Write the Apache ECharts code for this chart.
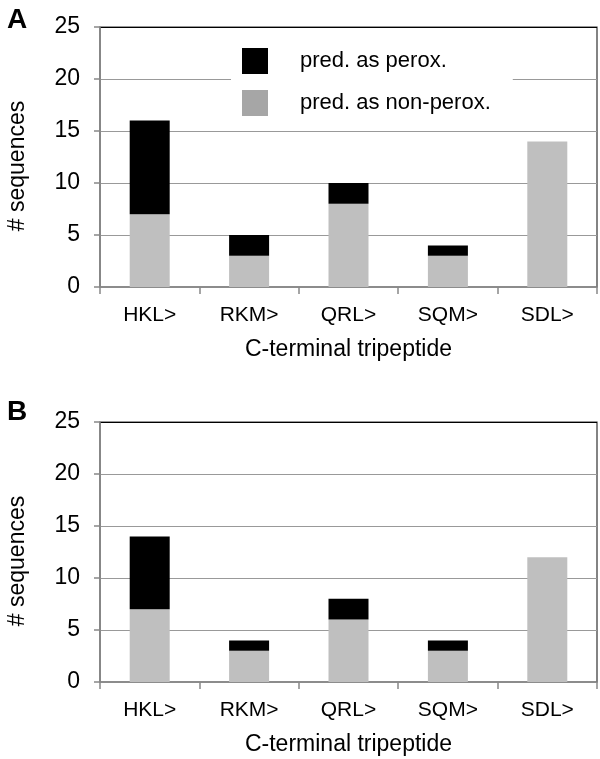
<!DOCTYPE html>
<html>
<head>
<meta charset="utf-8">
<script src="https://cdn.jsdelivr.net/npm/echarts@6/dist/echarts.min.js"></script>
<style>
  html, body { margin: 0; padding: 0; background: #fff; }
  #chart { width: 600px; height: 759px; }
</style>
</head>
<body>
<div id="chart"></div>
<script>
// tripeptide categories
const categories = ['HKL>', 'RKM>', 'QRL>', 'SQM>', 'SDL>'];
const yTicks = [0, 5, 10, 15, 20, 25];

// panel A
const nonPeroxA = [7, 3, 8, 3, 14];
const peroxA = [9, 2, 2, 1, 0];
// panel B
const nonPeroxB = [7, 3, 6, 3, 12];
const peroxB = [7, 1, 2, 1, 0];

const FONT = '"Liberation Sans", Arial, sans-serif';
const GRAY = '#bfbfbf';

function makeX(gridIndex) {
  return {
    type: 'category',
    gridIndex: gridIndex,
    data: categories,
    name: 'C-terminal tripeptide',
    nameLocation: 'middle',
    nameGap: 51,
    nameTextStyle: { fontFamily: FONT, fontSize: 23, color: '#000' },
    axisLine: { lineStyle: { color: '#888', width: 1.5 } },
    axisTick: { show: true, length: 7, lineStyle: { color: '#888', width: 1.5 } },
    axisLabel: { fontFamily: FONT, fontSize: 21, color: '#000', margin: 18 }
  };
}

function makeY(gridIndex) {
  return {
    type: 'value',
    gridIndex: gridIndex,
    min: yTicks[0],
    max: yTicks[yTicks.length - 1],
    interval: 5,
    name: '# sequences',
    nameLocation: 'middle',
    nameGap: 71,
    nameTextStyle: { fontFamily: FONT, fontSize: 23, color: '#000', padding: [0, 18, 0, 0] },
    axisLine: { show: true, lineStyle: { color: '#888', width: 1.5 } },
    axisTick: { show: true, length: 6, lineStyle: { color: '#888', width: 1.5 } },
    axisLabel: { fontFamily: FONT, fontSize: 23, color: '#000', margin: 20 },
    splitLine: {
      show: true,
      lineStyle: { color: ['#999', '#999', '#999', '#999', '#999', '#000'], width: 1.2 }
    }
  };
}

function bar(name, data, color, idx) {
  return {
    name: name,
    type: 'bar',
    stack: 'tot' + idx,
    xAxisIndex: idx,
    yAxisIndex: idx,
    data: data,
    barWidth: 40,
    itemStyle: { color: color },
    emphasis: { disabled: true }
  };
}

const chart = echarts.init(document.getElementById('chart'));
chart.setOption({
  animation: false,
  backgroundColor: '#fff',
  grid: [
    {
      left: 100, top: 27, width: 497, height: 260, outerBoundsMode: 'none',
      show: true, borderColor: '#333', borderWidth: 1.2
    },
    {
      left: 100, top: 422, width: 497, height: 260, outerBoundsMode: 'none',
      show: true, borderColor: '#333', borderWidth: 1.2
    }
  ],
  xAxis: [makeX(0), makeX(1)],
  yAxis: [makeY(0), makeY(1)],
  legend: {
    orient: 'vertical',
    left: 231,
    top: 36,
    padding: [11, 22, 11, 11],
    backgroundColor: '#fff',
    itemWidth: 26,
    itemHeight: 26,
    itemGap: 14,
    icon: 'rect',
    textStyle: {
      fontFamily: FONT, fontSize: 22, color: '#000',
      lineHeight: 20, padding: [8, 0, 0, 27]
    },
    data: [
      { name: 'pred. as perox.', itemStyle: { color: '#000' } },
      { name: 'pred. as non-perox.', itemStyle: { color: '#a6a6a6' } }
    ]
  },
  graphic: [
    { type: 'text', left: 7, top: 6, style: { text: 'A', font: 'bold 28px ' + FONT, fill: '#000' } },
    { type: 'text', left: 7, top: 398, style: { text: 'B', font: 'bold 28px ' + FONT, fill: '#000' } }
  ],
  series: [
    bar('pred. as non-perox.', nonPeroxA, GRAY, 0),
    bar('pred. as perox.', peroxA, '#000', 0),
    bar('pred. as non-perox.', nonPeroxB, GRAY, 1),
    bar('pred. as perox.', peroxB, '#000', 1)
  ]
});
</script>
</body>
</html>
